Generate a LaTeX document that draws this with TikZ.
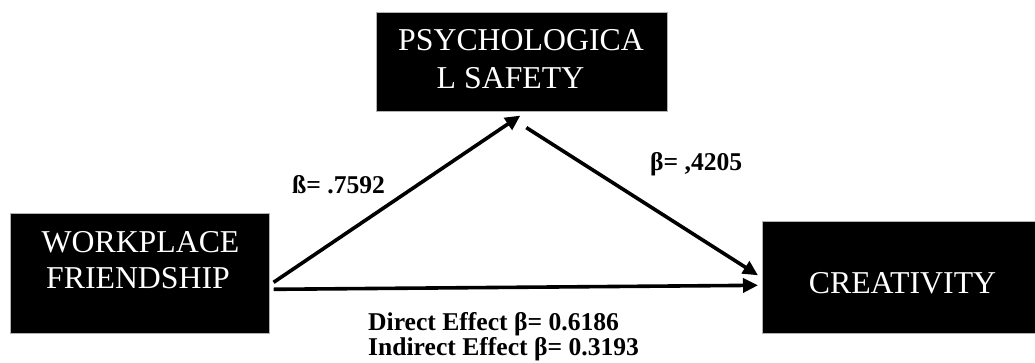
\documentclass[tikz,border=0pt]{standalone}
\usepackage{fontspec}
\setmainfont{Liberation Serif}
\usetikzlibrary{arrows.meta}
\begin{document}
\begin{tikzpicture}[x=1pt,y=-1pt,
  box/.style={fill=black,draw=gray!60,line width=0.6pt,inner sep=0pt,anchor=north west},
  boxtext/.style={text=white,inner sep=0pt,anchor=base,font=\fontsize{31.8}{36}\selectfont},
  lab/.style={inner sep=0pt,anchor=base west,font=\bfseries\fontsize{25.6}{23}\selectfont},
  arr/.style={line width=3.6pt,-{Triangle[length=15pt,width=14pt]}}]
\useasboundingbox (0,0) rectangle (1035,362);
% boxes
\node[box,minimum width=291pt,minimum height=99pt] (psy) at (376,12) {};
\node[box,minimum width=259pt,minimum height=120pt] (wf) at (10,213) {};
\node[box,minimum width=275pt,minimum height=112pt] (cr) at (762,221) {};
% box texts
\node[boxtext] (psy1) at (521,50) {PSYCHOLOGICA};
\node[boxtext] (psy2) at (510.5,88) {L SAFETY};
\node[boxtext] (wf1) at (140.5,252) {WORKPLACE};
\node[boxtext] (wf2) at (138,288) {FRIENDSHIP};
\node[boxtext] (cr1) at (902.5,293) {CREATIVITY};
% arrows
\draw[arr] ([xshift=4pt,yshift=-9pt]wf.east) -- ([xshift=-1.5pt,yshift=-4pt]psy.south);
\draw[arr] ([xshift=4.5pt,yshift=-16pt]psy.south) -- ([xshift=-4pt,yshift=2pt]cr.west);
\draw[arr] ([xshift=4pt,yshift=-16pt]wf.east) -- ([xshift=-4pt,yshift=-8pt]cr.west);
% labels
\node[lab] (b1) at (292,193) {ß= .7592};
\node[lab] (b2) at (650,170) {β= ,4205};
\node[lab] (d1) at (368,330) {Direct Effect β= 0.6186};
\node[lab] (d2) at (368,355) {Indirect Effect β= 0.3193};
\end{tikzpicture}
\end{document}
